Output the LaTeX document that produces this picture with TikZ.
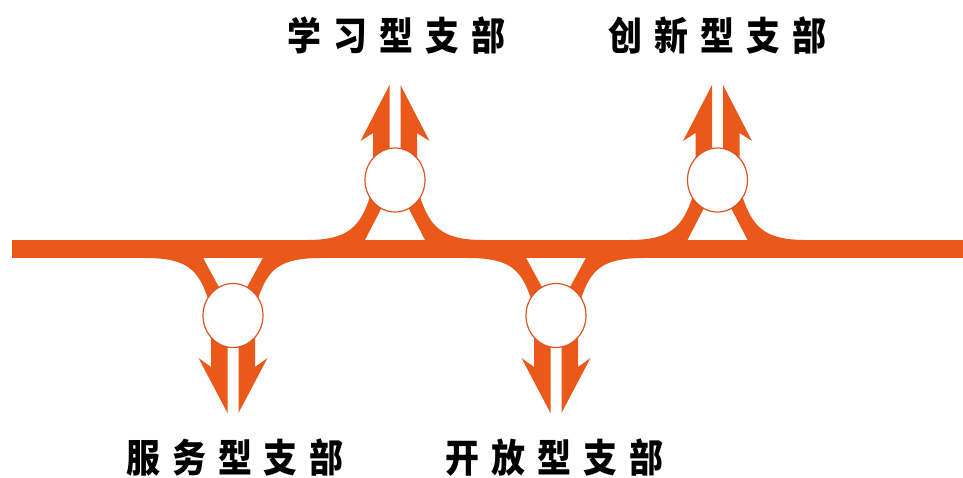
\documentclass[tikz,border=0pt]{standalone}
\usepackage{fontspec}
\newfontfamily\cjk{Noto Sans CJK SC}
\usetikzlibrary{shapes.geometric}
\definecolor{road}{RGB}{234,88,26}
\definecolor{ring}{RGB}{222,84,32}
% #1 distance circle centre -> near bar edge, #2 tip, #3 barb, #4 joint (local, negative = away from bar)
\newcommand\roadjunction[4]{%
  \fill[road] (-5.5,#2) -- (-34.5,#3) -- (-22,#4) -- (-22,0) -- (-5.5,0) -- cycle;
  \fill[road] (5.5,#2) -- (34.5,#3) -- (22,#4) -- (22,0) -- (5.5,0) -- cycle;
  \fill[road] (25,17) .. controls (35,46) and (46,#1) .. (88,#1) -- (88,#1+8) -- (34.2,#1+8) -- (5.2,12) -- cycle;
  \fill[road] (-25,17) .. controls (-35,46) and (-46,#1) .. (-88,#1) -- (-88,#1+8) -- (-34.2,#1+8) -- (-5.2,12) -- cycle;
}
\newcommand\lbltext[5]{\scalebox{0.87}[1]{\makebox[52.7pt]{#1}\makebox[52.7pt]{#2}\makebox[52.7pt]{#3}\makebox[52.7pt]{#4}\makebox[52.7pt]{#5}}}
\tikzset{
  ringnode/.style={ellipse, draw=ring, fill=white, line width=1.2pt, minimum width=60pt, minimum height=64pt, inner sep=0pt},
  lbl/.style={font=\cjk\bfseries\fontsize{39pt}{39pt}\selectfont, text=black, inner sep=0pt, anchor=base}
}
\begin{document}
\begin{tikzpicture}[x=1pt,y=-1pt]
\fill[white] (0,0) rectangle (963,477);
\useasboundingbox (0,0) rectangle (963,477);
% main road
\fill[road] (12,240) rectangle (963,258);
% up junctions
\begin{scope}[shift={(395,180)}]\roadjunction{60}{-95}{-39}{-47}\end{scope}
\begin{scope}[shift={(717.5,180)}]\roadjunction{60}{-95}{-39}{-47}\end{scope}
% down junctions
\begin{scope}[shift={(233,315.5)},yscale=-1]\roadjunction{57.5}{-97.5}{-42.5}{-51.5}\end{scope}
\begin{scope}[shift={(556,315.5)},yscale=-1]\roadjunction{57.5}{-97.5}{-42.5}{-51.5}\end{scope}
% circles
\node[ringnode] (c1) at (395,180) {};
\node[ringnode] (c2) at (717.5,180) {};
\node[ringnode] (c3) at (233,315.5) {};
\node[ringnode] (c4) at (556,315.5) {};
% labels
\node[lbl] (t1) at (396.5,50.3) {\lbltext{学}{习}{型}{支}{部}};
\node[lbl] (t2) at (717.5,50.3) {\lbltext{创}{新}{型}{支}{部}};
\node[lbl] (t3) at (235,472.3) {\lbltext{服}{务}{型}{支}{部}};
\node[lbl] (t4) at (554.5,472.3) {\lbltext{开}{放}{型}{支}{部}};
\end{tikzpicture}
\end{document}
